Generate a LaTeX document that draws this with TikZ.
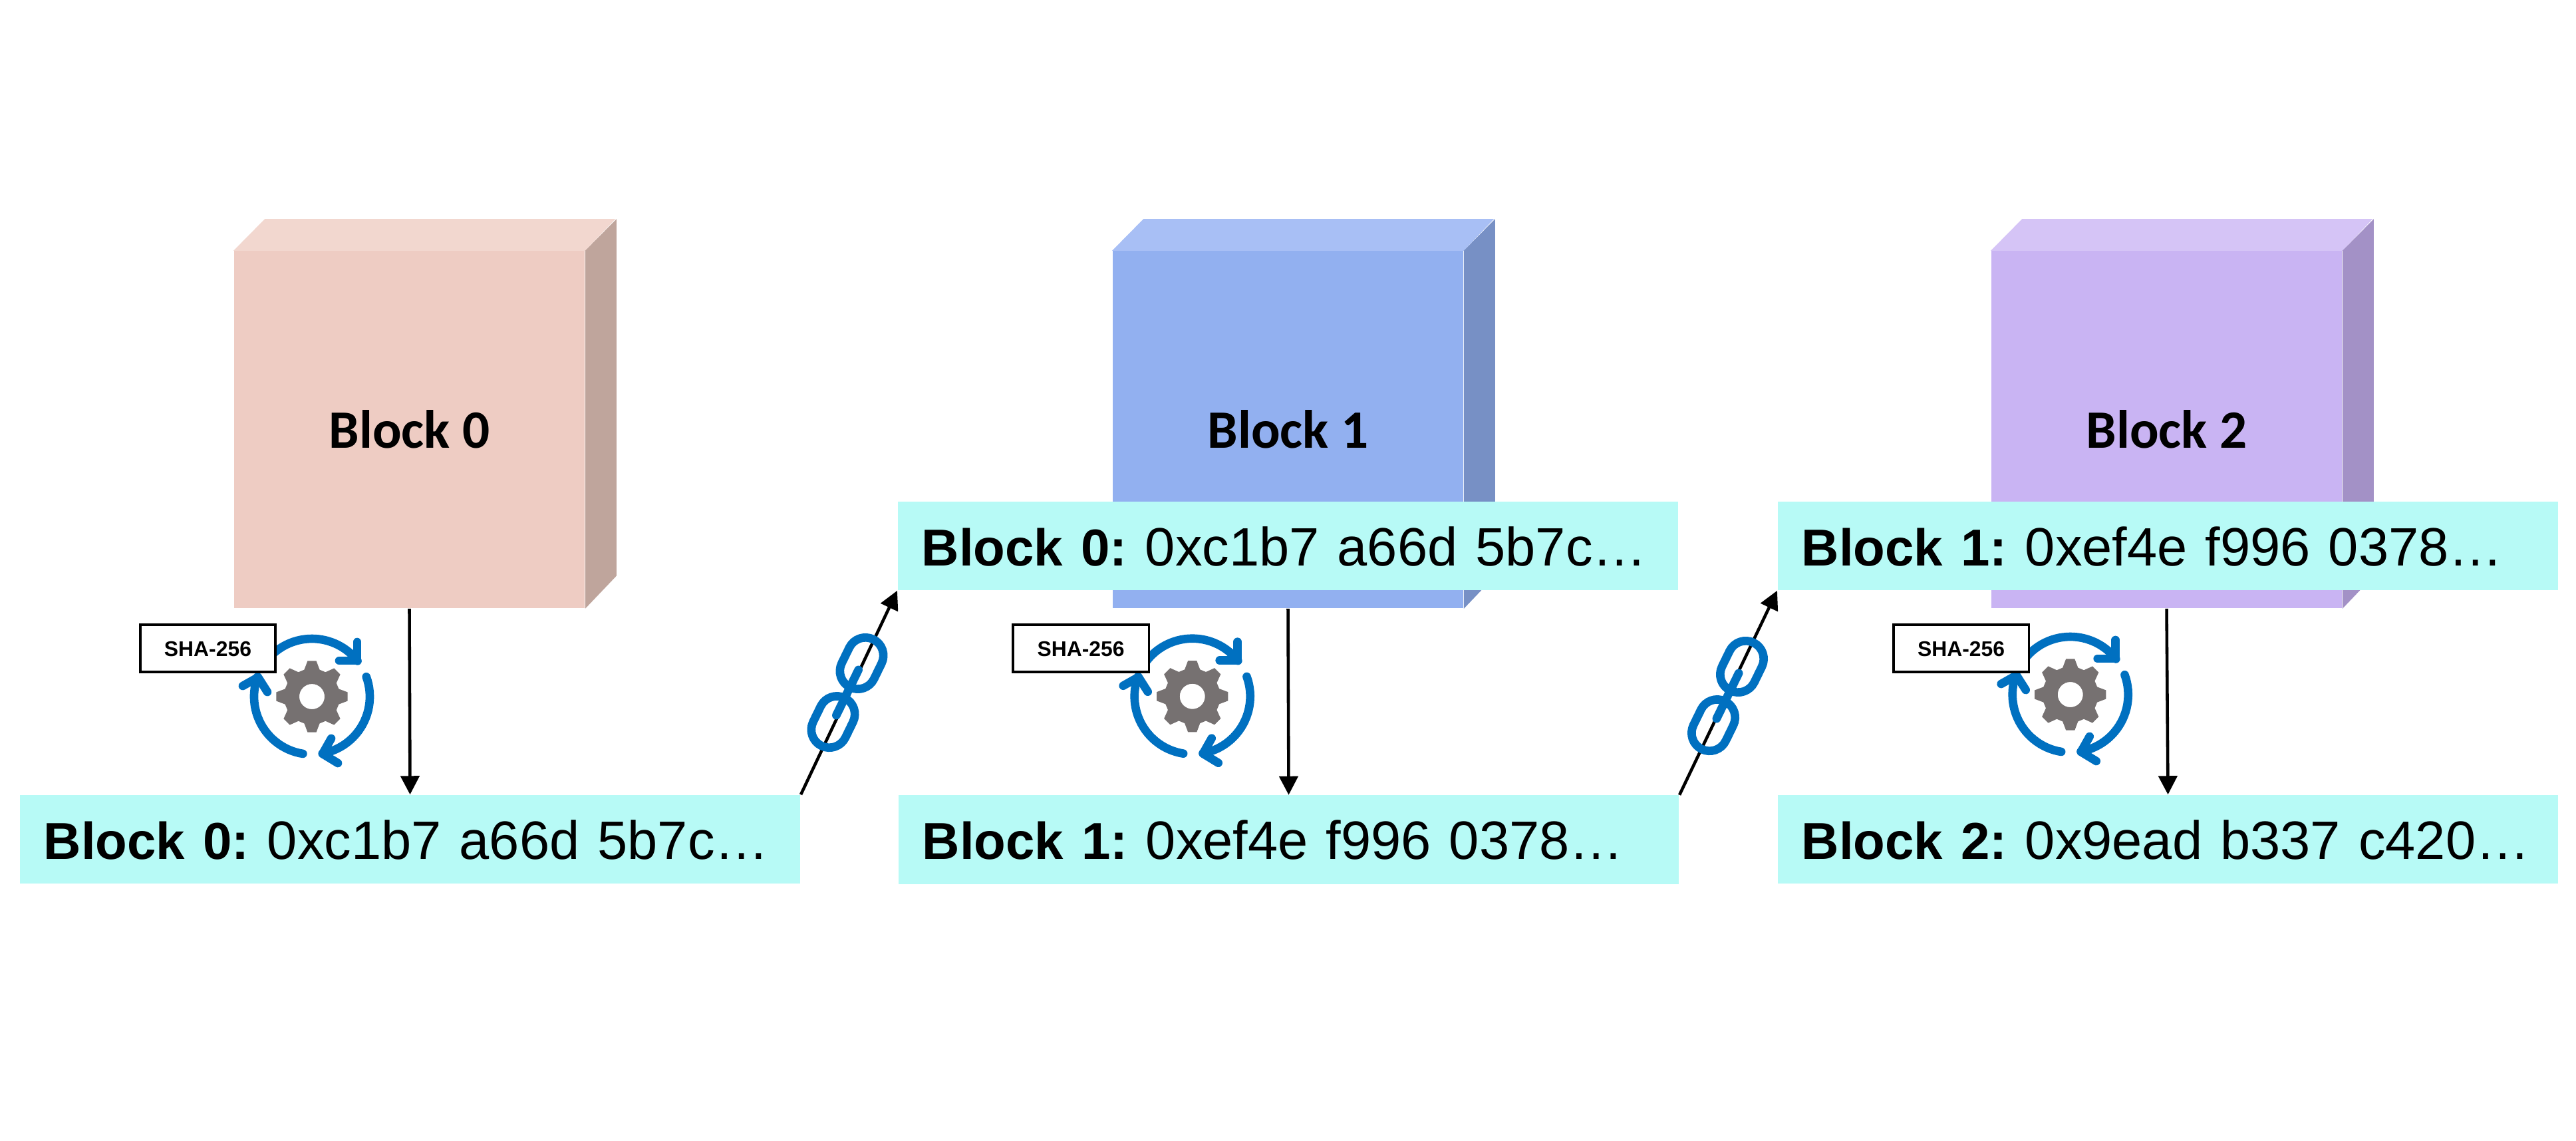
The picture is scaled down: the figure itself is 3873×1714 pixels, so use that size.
\documentclass[tikz,border=0pt]{standalone}
\usepackage{fontspec}
\setmainfont{Liberation Sans}
\newfontfamily\calibfont{Carlito}
\usetikzlibrary{arrows.meta}
\definecolor{hashcyan}{HTML}{B7FAF6}
\definecolor{iconblue}{HTML}{0070C0}
\definecolor{gearcol}{HTML}{767171}
\definecolor{rosefront}{HTML}{EECCC3}
\definecolor{rosetop}{HTML}{F2D7CF}
\definecolor{roseside}{HTML}{BFA59C}
\definecolor{bluefront}{HTML}{92B0F0}
\definecolor{bluetop}{HTML}{A8BFF5}
\definecolor{blueside}{HTML}{7790C5}
\definecolor{violetfront}{HTML}{C9B4F3}
\definecolor{violettop}{HTML}{D5C4F6}
\definecolor{violetside}{HTML}{A391C6}
\newcommand{\hashtext}[2]{\frenchspacing\mbox{{\fontsize{22.2pt}{27pt}\selectfont\bfseries #1:} #2}}
\tikzset{
  frontface/.style={rectangle,draw=none,minimum width=5.27cm,minimum height=5.364cm,inner sep=0pt,
    font=\calibfont\fontsize{23.1pt}{26pt}\selectfont\bfseries,text height=.552cm,text depth=0pt},
  hashbox/.style={rectangle,draw=none,fill=hashcyan,minimum width=11.73cm,minimum height=1.33cm,
    inner xsep=.36cm,inner ysep=0pt,text width=11.01cm,align=left,
    font=\fontsize{23.1pt}{27pt}\selectfont,text height=.59cm,text depth=0pt},
  shabox/.style={rectangle,draw=black,fill=white,line width=.9pt,minimum width=2.0cm,minimum height=.71cm,
    inner sep=0pt,font=\fontsize{9.06pt}{11pt}\selectfont\bfseries,text height=.23cm,text depth=0pt},
  flow/.style={draw=black,line width=1.3pt,-{Triangle[length=.28cm,width=.28cm]}},
  iconline/.style={draw=iconblue,line width=3.6pt,line cap=round,line join=round},
}
\newcommand{\cubeblock}[6]{% name, centre x, label, front, top, side
  \node[frontface,fill=#4] (#1) at (#2,645.8) {#3};
  \fill[#5] (#1.north west) -- ++(47,-47.6) -- ++(527,0) -- (#1.north east) -- cycle;
  \fill[#6] (#1.north east) -- ++(47,-47.6) -- ++(0,536.4) -- (#1.south east) -- cycle;
}
\newcommand{\hashicon}[2]{% gear centre x, y
  \begin{scope}[shift={(#1,#2)},y=0.01cm]
    \fill[gearcol,even odd rule] (-7:54)
      \foreach \a in {0,45,...,315} { -- ({\a-7}:54) -- ({\a+7}:54) -- ({\a+16}:42) -- ({\a+29}:42) }
      -- cycle (0,0) circle[radius=19];
    \draw[iconline] (150:87) arc[start angle=150,end angle=38,radius=87];
    \draw[iconline] (68,82) -- (68,54) -- (41,54);
    \draw[iconline] (20:87) arc[start angle=20,end angle=-79.5,radius=87];
    \draw[iconline] (29,-63) -- (16,-86) -- (39,-100);
    \draw[iconline] (261:87) arc[start angle=261,end angle=160,radius=87];
    \draw[iconline] (-104,16) -- (-81,29) -- (-67,7);
  \end{scope}
}
\newcommand{\chainlink}[2]{% middle x, y
  \begin{scope}[shift={(#1,#2)},y=0.01cm,rotate=64]
    \foreach \c in {-49,49}{
      \draw[iconline] (\c-13,27) -- (\c+13,27) arc[start angle=90,end angle=-90,radius=27]
        -- (\c-13,-27) arc[start angle=270,end angle=90,radius=27] -- cycle;
    }
    \draw[iconline] (-38,0) -- (38,0);
  \end{scope}
}
\begin{document}
\begin{tikzpicture}[x=0.01cm,y=-0.01cm]
\useasboundingbox (0,0) rectangle (3873,1714);
% cubes
\cubeblock{front0}{615.5}{Block 0}{rosefront}{rosetop}{roseside}
\cubeblock{front1}{1936.5}{Block 1}{bluefront}{bluetop}{blueside}
\cubeblock{front2}{3257.5}{Block 2}{violetfront}{violettop}{violetside}
% hash boxes
\node[hashbox] (hash0) at (616.5,1261.5) {\hashtext{Block 0}{0xc1b7 a66d 5b7c…}};
\node[hashbox] (hash1) at (1937.5,1262) {\hashtext{Block 1}{0xef4e f996 0378…}};
\node[hashbox] (hash2) at (3259.5,1261.5) {\hashtext{Block 2}{0x9ead b337 c420…}};
\node[hashbox] (prev1) at (1936.5,820.5) {\hashtext{Block 0}{0xc1b7 a66d 5b7c…}};
\node[hashbox] (prev2) at (3259.5,820.5) {\hashtext{Block 1}{0xef4e f996 0378…}};
% connectors
\draw[flow] (front0.south) -- (hash0.north);
\draw[flow] (front1.south) -- (hash1.north);
\draw[flow] (front2.south) -- (hash2.north);
\draw[flow] (hash0.north east) -- (prev1.south west);
\draw[flow] (hash1.north east) -- (prev2.south west);
% chains
\chainlink{1274}{1041}
\chainlink{2597.5}{1046}
% hash icons
\hashicon{469}{1047}
\hashicon{1792.7}{1046.7}
\hashicon{3112.7}{1044}
\node[shabox,minimum width=2.03cm] (sha0) at (312.5,974.5) {SHA-256};
\node[shabox,minimum width=2.04cm] (sha1) at (1625,974.5) {SHA-256};
\node[shabox,minimum width=2.03cm] (sha2) at (2948.5,974.5) {SHA-256};
\end{tikzpicture}
\end{document}
